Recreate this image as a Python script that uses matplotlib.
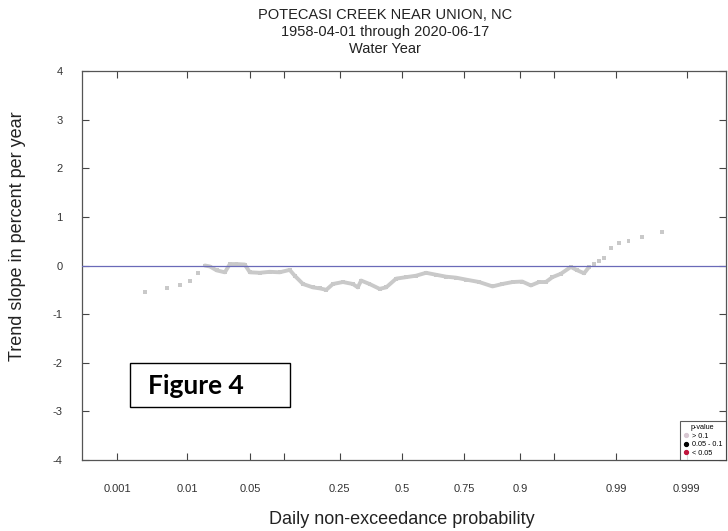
import numpy as np
import matplotlib
matplotlib.use("Agg")
import matplotlib.pyplot as plt
from matplotlib.lines import Line2D
from matplotlib.patches import Rectangle
from statistics import NormalDist

plt.rcParams['font.family'] = ['Liberation Sans', 'DejaVu Sans']

# Daily non-exceedance probability and trend slope (% per year)
prob = [0.00266, 0.00536, 0.00802, 0.0107, 0.01355,
        0.0163, 0.0186, 0.0222, 0.0274, 0.031, 0.0364, 0.0441, 0.0495,
        0.0615, 0.0758, 0.0925, 0.1117, 0.1224, 0.1415, 0.1672, 0.186,
        0.206, 0.227, 0.261, 0.297, 0.316, 0.329, 0.3625, 0.404, 0.432,
        0.475, 0.518, 0.561, 0.603, 0.644, 0.684, 0.721, 0.7565, 0.799,
        0.837, 0.862, 0.885, 0.904, 0.919, 0.9316, 0.9407, 0.9487, 0.9576,
        0.9665, 0.9715, 0.9759, 0.9788,
        0.9814, 0.9837, 0.9858, 0.9882, 0.9907, 0.9930, 0.99542, 0.99762]
slope = [-0.54, -0.46, -0.41, -0.31, -0.15,
         0.00, -0.02, -0.10, -0.14, 0.03, 0.03, 0.02, -0.14,
         -0.15, -0.13, -0.14, -0.09, -0.21, -0.38, -0.45, -0.47,
         -0.50, -0.38, -0.34, -0.38, -0.45, -0.31, -0.38, -0.48, -0.45,
         -0.27, -0.24, -0.21, -0.15, -0.19, -0.23, -0.25, -0.29, -0.34,
         -0.43, -0.38, -0.34, -0.33, -0.41, -0.34, -0.34, -0.24, -0.17,
         -0.03, -0.10, -0.16, -0.03,
         0.03, 0.10, 0.15, 0.36, 0.46, 0.50, 0.58, 0.69]

# Days dense enough to read as a continuous band
dense_start, dense_end = 5, 52

x_ticks = [0.001, 0.01, 0.05, 0.1, 0.25, 0.5, 0.75, 0.9, 0.95, 0.99, 0.999]
x_tick_labels = ['0.001', '0.01', '0.05', '', '0.25', '0.5', '0.75', '0.9', '', '0.99', '0.999']
y_ticks = [-4, -3, -2, -1, 0, 1, 2, 3, 4]

title_lines = ["POTECASI CREEK NEAR UNION, NC", "1958-04-01 through 2020-06-17", "Water Year"]

# Normal-probability (probit) axis
_nd = NormalDist()
_ppf = np.vectorize(_nd.inv_cdf, otypes=[float])
_cdf = np.vectorize(_nd.cdf, otypes=[float])


def probit(p):
    p = np.clip(np.asarray(p, dtype=float), 1e-12, 1 - 1e-12)
    return _ppf(p)


def inv_probit(z):
    return _cdf(np.asarray(z, dtype=float))


fig = plt.figure(figsize=(7.28, 5.31), dpi=100)
ax = fig.add_axes([82 / 728, 1 - 460 / 531, (726 - 82) / 728, (460 - 71) / 531])
ax.set_xscale('function', functions=(probit, inv_probit))
ax.set_xlim(0.00026, 0.99978)
ax.set_ylim(-4, 4)

point_color = '#c9c9c9'
ax.axhline(0, color='#6a6ab8', lw=0.9, zorder=4)
ax.plot(prob[dense_start:dense_end], slope[dense_start:dense_end], color=point_color,
        lw=2.8, solid_capstyle='round', solid_joinstyle='round', zorder=2)
ax.scatter(prob, slope, s=8, marker='s', color=point_color, edgecolors='none', zorder=3)

ax.set_xticks(x_ticks)
ax.set_xticklabels(x_tick_labels)
ax.xaxis.set_minor_locator(matplotlib.ticker.NullLocator())
ax.set_yticks(y_ticks)
ax.set_yticklabels([str(t) for t in y_ticks])
ax.tick_params(axis='both', direction='in', length=5, width=0.8, color='#444444',
               labelsize=8, labelcolor='#333333', top=True, right=True)
ax.tick_params(axis='x', pad=17)
ax.tick_params(axis='y', pad=14)
for s in ax.spines.values():
    s.set_color('#555555')
    s.set_linewidth(0.9)

for i, line in enumerate(title_lines):
    fig.text(385 / 728, 1 - (15 + 17 * i) / 531, line, ha='center', va='center',
             fontsize=10.5, color='#222222')

fig.text(402 / 728, 1 - 520 / 531, "Daily non-exceedance probability", ha='center',
         va='center', fontsize=13, color='#222222')
fig.text(18 / 728, 1 - 236 / 531, "Trend slope in percent per year", ha='center',
         va='center', rotation=90, fontsize=13, color='#222222')

# Caption box
fig.patches.append(Rectangle((130 / 728, 1 - 407 / 531), 160 / 728, 44 / 531,
                             transform=fig.transFigure, fill=True, facecolor='white',
                             edgecolor='black', lw=1.0))
fig.text(148 / 728, 1 - 386 / 531, "Figure 4", ha='left', va='center',
         fontsize=19, fontweight='bold', family=['Lato', 'DejaVu Sans'], color='black')

# p-value legend
handles = [
    Line2D([], [], ls='none', marker='o', ms=2.8, color='#d8c8d2', label='> 0.1'),
    Line2D([], [], ls='none', marker='o', ms=2.8, color='black', label='0.05 - 0.1'),
    Line2D([], [], ls='none', marker='o', ms=2.8, color='#c0143c', label='< 0.05'),
]
leg = ax.legend(handles=handles, title='p-value', loc='lower right', fontsize=5.2,
                title_fontsize=5.2, frameon=True, fancybox=False, borderaxespad=0.0,
                handlelength=0.8, handletextpad=0.5, labelspacing=0.2,
                borderpad=0.45, alignment='center')
leg.get_frame().set_edgecolor('#333333')
leg.get_frame().set_linewidth(0.8)

fig.savefig('out.png', dpi=100)
